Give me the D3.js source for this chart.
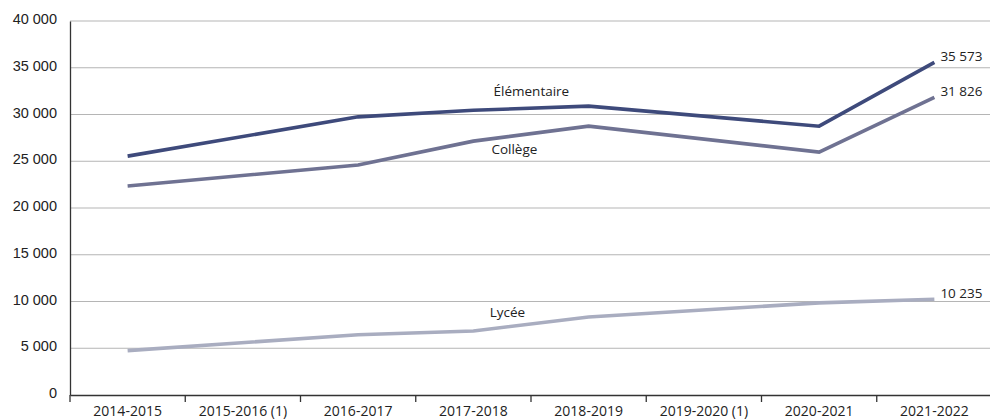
<!DOCTYPE html>
<html><head><meta charset="utf-8">
<script src="https://cdn.jsdelivr.net/npm/d3@7"></script>
<style>body{margin:0;background:#fff}svg{display:block}</style>
</head><body>
<svg id="c" width="990" height="420"></svg>
<script>
const categories = ["2014-2015","2015-2016 (1)","2016-2017","2017-2018","2018-2019","2019-2020 (1)","2020-2021","2021-2022"];
const elementaire = [25550, null, 29750, 30450, 30900, null, 28750, 35573];
const college = [22350, null, 24600, 27150, 28750, null, 25980, 31826];
const lycee = [4750, null, 6450, 6850, 8350, null, 9850, 10235];
const yTicks = [0,5000,10000,15000,20000,25000,30000,35000,40000];
const seriesNames = ["Élémentaire","Collège","Lycée"];
const colors = ["#3e4a7b","#6f7292","#a9adc0"];

const svg = d3.select("#c");
const L = 70, R = 992, T = 21, B = 395;
const x = d3.scaleBand().domain(categories).range([L, R]);
const y = d3.scaleLinear().domain([0, 40000]).range([B, T]);
const fmt = v => d3.format(",")(v).replace(/,/g, " ");

// grid
svg.append("g").selectAll("line").data(yTicks.slice(1)).join("line")
  .attr("x1", L).attr("x2", 990).attr("y1", d => y(d)).attr("y2", d => y(d))
  .attr("stroke", "#b5b5b5").attr("stroke-width", 1);

// y axis
const ya = svg.append("g").attr("transform", `translate(${L},0)`)
  .call(d3.axisLeft(y).tickValues(yTicks).tickSize(0).tickPadding(13).tickFormat(fmt));
ya.select(".domain").attr("stroke", "#333").attr("stroke-width", 1.3);
ya.selectAll("text").attr("font-family", "Liberation Sans, Arial, sans-serif").attr("font-size", 14.5).attr("fill", "#222").attr("dy", "0.18em");

// x axis
const xa = svg.append("g").attr("transform", `translate(0,${B})`)
  .call(d3.axisBottom(x).tickSize(0).tickPadding(11));
xa.select(".domain").attr("stroke", "#333").attr("stroke-width", 1.5);
xa.selectAll("text").attr("font-family", "Open Sans, sans-serif").attr("font-size", 14).attr("fill", "#222");
xa.selectAll(".b").data(categories).join("line").attr("class","b")
  .attr("x1", d => x(d)).attr("x2", d => x(d)).attr("y1", 0).attr("y2", 7)
  .attr("stroke", "#333").attr("stroke-width", 1.3);

const all = [elementaire, college, lycee];
const line = d3.line().x(d => x(d.c) + x.bandwidth()/2).y(d => y(d.v));
all.forEach((s, i) => {
  const pts = categories.map((c, j) => ({c, v: s[j]})).filter(d => d.v != null);
  svg.append("path").datum(pts).attr("d", line).attr("fill", "none")
    .attr("stroke", colors[i]).attr("stroke-width", 3.6);
  const last = pts[pts.length - 1];
  svg.append("text").attr("x", x(last.c) + x.bandwidth()/2 + 6).attr("y", y(last.v) - 1)
    .attr("font-family", "Open Sans, sans-serif").attr("font-size", 13.5).attr("fill", "#222")
    .text(fmt(last.v));
});

// series labels
const lab = [
  {t: seriesNames[0], c: categories[3], v: elementaire[3], dy: -14, dx: 58},
  {t: seriesNames[1], c: categories[3], v: college[3], dy: 13, dx: 41},
  {t: seriesNames[2], c: categories[3], v: lycee[3], dy: -14, dx: 34}
];
lab.forEach(l => {
  svg.append("text").attr("x", x(l.c) + x.bandwidth()/2 + l.dx).attr("y", y(l.v) + l.dy)
    .attr("text-anchor", "middle").attr("font-family", "Open Sans, sans-serif")
    .attr("font-size", 13.5).attr("fill", "#222").text(l.t);
});
</script>
</body></html>
